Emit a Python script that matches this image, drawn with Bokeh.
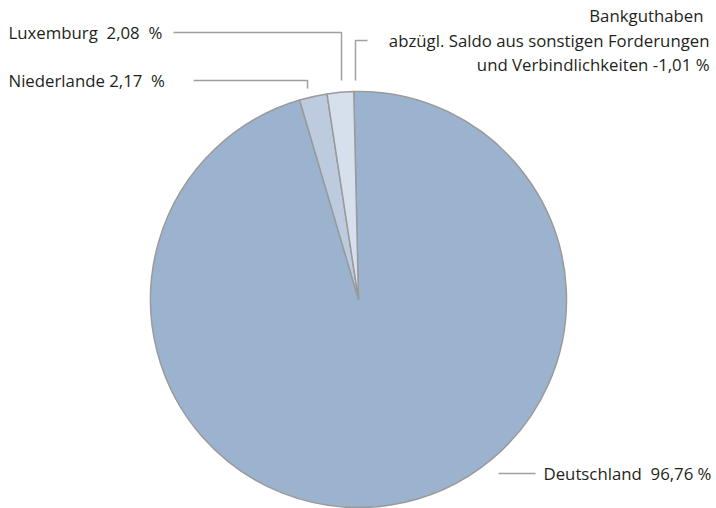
import numpy as np
from bokeh.plotting import figure
from bokeh.models import Range1d, ColumnDataSource
from bokeh.core.properties import value
from bokeh.embed import file_html
from bokeh.resources import INLINE

# ---- data ----
names = ["Deutschland", "Niederlande", "Luxemburg",
         "Bankguthaben\nabzügl. Saldo aus sonstigen Forderungen\nund Verbindlichkeiten"]
shares = [96.76, 2.17, 2.08, -1.01]
colors = ["#9bb3cf", "#bdcbde", "#d6e0ec", "#e8eef5"]

def fmt(v):
    return f"{v:.2f}".replace(".", ",")

W, H = 716, 508
def Y(yi):  # picture-pixel y -> data y
    return H - yi

p = figure(width=W, height=H, output_backend="svg", toolbar_location=None,
           x_range=Range1d(0, W), y_range=Range1d(0, H),
           min_border=0)
p.axis.visible = False
p.grid.visible = False
p.outline_line_color = None
p.background_fill_color = None
p.border_fill_color = None

# ---- pie ----
cx, cy, r = 358, Y(299), 208
vals = np.clip(np.array(shares), 0, None)
frac = vals / vals.sum()
start0 = np.deg2rad(91.3)
ends = start0 - 2 * np.pi * np.cumsum(frac)
starts = np.concatenate([[start0], ends[:-1]])
keep = frac > 0
src = ColumnDataSource(dict(start=starts[keep], end=ends[keep], color=np.array(colors)[keep]))
p.wedge(x=cx, y=cy, radius=r, start_angle="start", end_angle="end",
        direction="clock", fill_color="color", line_color="#9a9a9a",
        line_width=1.5, source=src)

# ---- leader lines ----
lead_col = "#a0a0a0"
p.multi_line(xs=[[173, 341, 341], [193, 307, 307], [367, 355, 355], [498, 535]],
             ys=[[Y(32), Y(32), Y(80)], [Y(80), Y(80), Y(88)],
                 [Y(40), Y(40), Y(80)], [Y(473), Y(473)]],
             line_color=lead_col, line_width=1.5)

# ---- labels ----
font = value("Open Sans")
fs = "16.8px"
tc = "#231f20"
nb = "\u00a0"
p.text(x=[8], y=[Y(32)], text=[f"{names[2]}{nb}{nb}{fmt(shares[2])}{nb}{nb}%"],
       text_font=font, text_font_size=fs, text_color=tc,
       text_baseline="middle", text_align="left")
p.text(x=[8], y=[Y(80)], text=[f"{names[1]}{nb}{fmt(shares[1])}{nb}{nb}%"],
       text_font=font, text_font_size=fs, text_color=tc,
       text_baseline="middle", text_align="left")
p.text(x=[543], y=[Y(473)], text=[f"{names[0]}{nb}{nb}{fmt(shares[0])}{nb}%"],
       text_font=font, text_font_size=fs, text_color=tc,
       text_baseline="middle", text_align="left")
bl = names[3].split("\n")
p.text(x=[703, 709, 709], y=[Y(15), Y(40), Y(64)],
       text=[bl[0], bl[1], f"{bl[2]} {fmt(shares[3])} %"],
       text_font=font, text_font_size=fs, text_color=tc,
       text_baseline="middle", text_align="right")

open("out.html", "w").write(file_html(p, INLINE))
